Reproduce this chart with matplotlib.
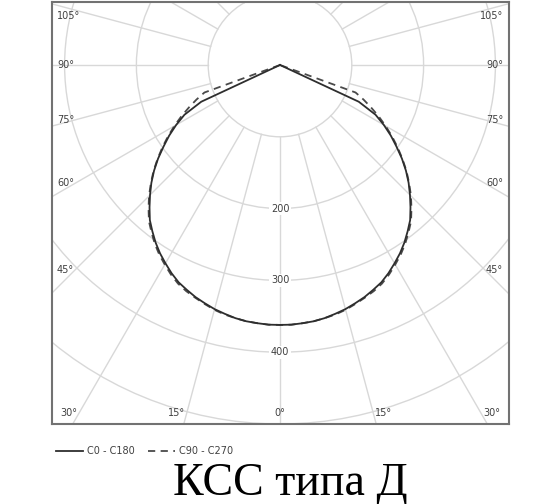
import matplotlib
matplotlib.use("Agg")
import matplotlib.pyplot as plt
import numpy as np
from matplotlib.lines import Line2D
from matplotlib.patches import Circle

# углы от надира, град (шаг 2.5)
angles = [0, 2.5, 5, 7.5, 10, 12.5, 15, 17.5, 20, 22.5, 25, 27.5, 30, 32.5, 35, 37.5,
          40, 42.5, 45, 47.5, 50, 52.5, 55, 57.5, 60, 62.5, 65, 67.5, 70, 72.5, 90]
# сила света, кд
i_c0 = [362, 362, 361, 360, 358, 355, 352, 348, 344, 339, 334, 327, 319, 311, 302, 292,
        282, 269, 256, 243, 229, 214, 198, 183, 167, 150, 121, 0, 0, 0, 0]
i_c90 = [362, 362, 361, 360, 358, 356, 353, 349, 345, 341, 336, 329, 321, 313, 304, 294,
         284, 271, 258, 244, 230, 215, 200, 185, 170, 155, 140, 126, 112, 0, 0]

rings = [100, 200, 300, 400, 500, 600]
ring_labels = [200, 300, 400]
side_angles = [45, 60, 75, 90, 105]
bottom_angles = [30, 15, 0]

grid_color = '#d8d8d8'
text_color = '#404040'

fig = plt.figure(figsize=(5.6, 5.04), dpi=100)
# рамка в пикселях: 52..509 по x, 2..424 по y
ax = fig.add_axes([52 / 560, (504 - 424) / 504, 457 / 560, 422 / 504])
scale = 0.718  # px на кд
x0, x1 = -(280 - 52) / scale, (509 - 280) / scale
y0, y1 = -(424 - 65) / scale, (65 - 2) / scale
ax.set_xlim(x0, x1)
ax.set_ylim(y0, y1)
ax.set_xticks([])
ax.set_yticks([])
for spine in ax.spines.values():
    spine.set_color('#727272')
    spine.set_linewidth(1.5)

# сетка
for r in rings:
    ax.add_patch(Circle((0, 0), r, fill=False, ec=grid_color, lw=1.0, zorder=1))
for a in range(0, 360, 15):
    t = np.radians(a)
    ax.plot([100 * np.sin(t), 900 * np.sin(t)], [-100 * np.cos(t), -900 * np.cos(t)],
            color=grid_color, lw=1.0, zorder=1)

for v in ring_labels:
    ax.text(0, -v, str(v), ha='center', va='center', fontsize=7, color=text_color,
            bbox=dict(facecolor='white', edgecolor='none', pad=1), zorder=2)

# подписи углов по бокам
xl = -(280 - 57) / scale
xr = (503 - 280) / scale
for a in side_angles:
    t = np.radians(a)
    y = 0.9 * x0 * np.cos(t) / np.sin(t) if a != 90 else 0.0
    y = min(y, y1 - 20)
    ax.text(xl, y, f'{a}°', ha='left', va='center', fontsize=7, color=text_color, zorder=3)
    ax.text(xr, y, f'{a}°', ha='right', va='center', fontsize=7, color=text_color, zorder=3)

# подписи углов снизу
yb = -(413 - 65) / scale
for a in bottom_angles:
    xray = -yb * np.tan(np.radians(a))
    if a == 0:
        ax.text(0, yb, '0°', ha='center', va='center', fontsize=7, color=text_color, zorder=3)
    else:
        ax.text(-xray - 3, yb, f'{a}°', ha='right', va='center', fontsize=7, color=text_color, zorder=3)
        ax.text(xray + 3, yb, f'{a}°', ha='left', va='center', fontsize=7, color=text_color, zorder=3)

# кривые КСС
ang = np.array(angles, dtype=float)
full_ang = np.radians(np.concatenate([-ang[::-1], ang[1:]]))
for vals, ls, col in [(i_c90, (0, (4, 3)), '#4a4a4a'), (i_c0, '-', '#2e2e2e')]:
    v = np.array(vals, dtype=float)
    full = np.concatenate([v[::-1], v[1:]])
    ax.plot(full * np.sin(full_ang), -full * np.cos(full_ang), color=col, lw=1.3,
            linestyle=ls, zorder=4)

handles = [Line2D([], [], color='#2e2e2e', lw=1.3),
           Line2D([], [], color='#4a4a4a', lw=1.3, linestyle=(0, (4, 3)))]
leg = fig.legend(handles, ['C0 - C180', 'C90 - C270'], ncol=2, frameon=False,
                 loc='center left', bbox_to_anchor=(56 / 560, 1 - 451 / 504),
                 fontsize=7, handlelength=2.8, handletextpad=0.4, columnspacing=1.3,
                 borderpad=0, borderaxespad=0)
for txt in leg.get_texts():
    txt.set_color(text_color)

fig.text(290 / 560, 1 - 495 / 504, 'КСС типа Д', ha='center', va='baseline',
         family='Liberation Serif', fontsize=33, color='black')

fig.savefig('out.png', dpi=100)
